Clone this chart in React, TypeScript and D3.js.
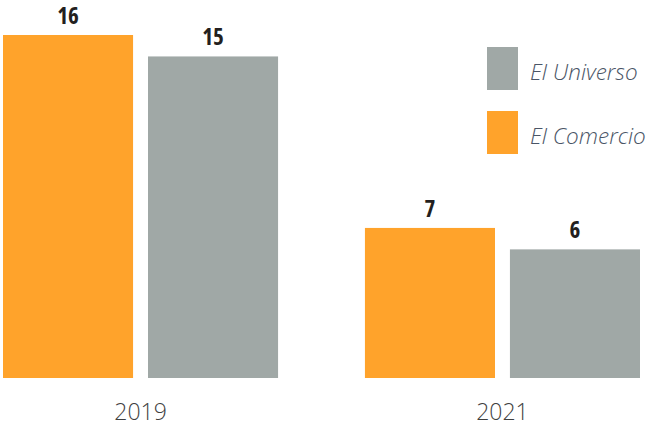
import { useEffect, useRef } from "react";
import { select, scaleBand, scaleLinear } from "d3";

const years = ["2019", "2021"];
const series = ["El Comercio", "El Universo"];
const comercio = [16, 7];
const universo = [15, 6];
const legendOrder = ["El Universo", "El Comercio"];

const colors: Record<string, string> = {
  "El Comercio": "#FFA32B",
  "El Universo": "#A0A8A6",
};

const draw = (ref: SVGSVGElement) => {
  const svg = select(ref);
  svg.selectAll("*").remove();

  const x = scaleBand().domain(years).range([3, 640]).paddingInner(0.24);
  const xs = scaleBand()
    .domain(series)
    .range([0, x.bandwidth()])
    .paddingInner(0.103);
  const y = scaleLinear().domain([0, 16]).range([378, 35]);

  const rows = years.map((yr, i) => ({
    year: yr,
    vals: [
      { key: "El Comercio", v: comercio[i] },
      { key: "El Universo", v: universo[i] },
    ],
  }));

  const g = svg
    .selectAll("g.grp")
    .data(rows)
    .join("g")
    .attr("class", "grp")
    .attr("transform", (d) => `translate(${x(d.year)},0)`);

  g.selectAll("rect")
    .data((d) => d.vals)
    .join("rect")
    .attr("x", (d) => xs(d.key)!)
    .attr("y", (d) => y(d.v))
    .attr("width", xs.bandwidth())
    .attr("height", (d) => y(0) - y(d.v))
    .attr("fill", (d) => colors[d.key]);

  // value labels
  g.selectAll("text.val")
    .data((d) => d.vals)
    .join("text")
    .attr("class", "val")
    .attr("x", (d) => xs(d.key)! + xs.bandwidth() / 2)
    .attr("y", (d) => y(d.v) - 11)
    .attr("text-anchor", "middle")
    .style("font-family", "'Open Sans', sans-serif")
    .style("font-stretch", "condensed")
    .attr("font-size", 23)
    .attr("font-weight", 700)
    .attr("fill", "#231f20")
    .text((d) => d.v);

  svg
    .append("g")
    .selectAll("text")
    .data(years)
    .join("text")
    .attr("x", (d) => x(d)! + x.bandwidth() / 2)
    .attr("y", 420)
    .attr("text-anchor", "middle")
    .style("font-family", "'Open Sans', sans-serif")
    .attr("font-size", 23)
    .attr("font-weight", 300)
    .attr("fill", "#3f3f3f")
    .text((d) => d);

  // legend
  const ly = scaleBand()
    .domain(legendOrder)
    .range([47, 154])
    .paddingInner(21 / 64);
  const lg = svg
    .append("g")
    .selectAll("g")
    .data(legendOrder)
    .join("g")
    .attr("transform", (d) => `translate(487,${ly(d)})`);
  lg.append("rect")
    .attr("width", 31)
    .attr("height", ly.bandwidth())
    .attr("fill", (d) => colors[d]);
  lg.append("text")
    .attr("x", 43)
    .attr("y", 33)
    .style("font-family", "'Open Sans', sans-serif")
    .attr("font-size", 22.5)
    .attr("font-weight", 300)
    .attr("font-style", "italic")
    .attr("fill", "#4a5566")
    .text((d) => d);
};

export default function App() {
  const ref = useRef<SVGSVGElement>(null);
  useEffect(() => {
    if (ref.current) draw(ref.current);
  }, []);
  return (
    <svg
      ref={ref}
      width={657}
      height={432}
      style={{ position: "absolute", left: 0, top: 0, background: "#fff" }}
    />
  );
}
